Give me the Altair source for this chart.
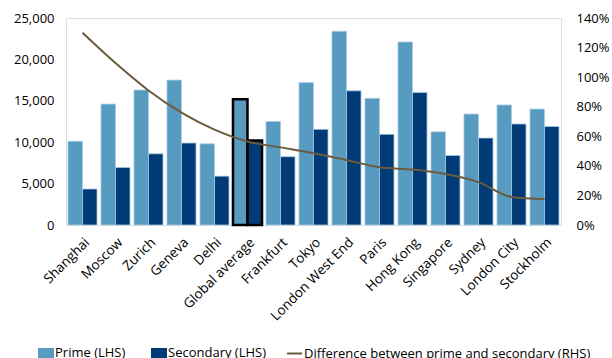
import altair as alt
import pandas as pd

# Prime vs secondary office rents by city, with the prime premium on the right axis
cities = ["Shanghai", "Moscow", "Zurich", "Geneva", "Delhi", "Global average",
          "Frankfurt", "Tokyo", "London West End", "Paris", "Hong Kong",
          "Singapore", "Sydney", "London City", "Stockholm"]
prime = [10100, 14600, 16300, 17500, 9800, 15200, 12500, 17200, 23400,
         15300, 22100, 11250, 13400, 14500, 14000]
secondary = [4350, 6950, 8600, 9900, 5900, 10200, 8250, 11550, 16200,
             10950, 16000, 8400, 10500, 12200, 11900]
difference = [1.30, 1.095, 0.91, 0.76, 0.645, 0.565, 0.525, 0.485, 0.44,
              0.39, 0.375, 0.345, 0.29, 0.19, 0.175]

PRIME_LBL = "Prime (LHS)"
SEC_LBL = "Secondary (LHS)"
DIFF_LBL = "Difference between prime and secondary (RHS)"

bars_df = pd.DataFrame(
    [{"city": c, "series": PRIME_LBL, "value": p} for c, p in zip(cities, prime)]
    + [{"city": c, "series": SEC_LBL, "value": s} for c, s in zip(cities, secondary)]
)
line_df = pd.DataFrame({"city": cities, "diff": difference, "series": DIFF_LBL})

FONT = "Open Sans"

x_enc = alt.X(
    "city:N", sort=cities, title=None,
    scale=alt.Scale(paddingInner=0.12, paddingOuter=0.06),
    axis=alt.Axis(labelAngle=-45, labelFontSize=13.5, labelColor="#000000",
                  ticks=False, domain=False, labelPadding=10, labelFont=FONT),
)

bars = alt.Chart(bars_df).mark_bar(strokeWidth=1).encode(
    x=x_enc,
    xOffset=alt.XOffset("series:N", sort=[PRIME_LBL, SEC_LBL]),
    y=alt.Y("value:Q", title=None,
            scale=alt.Scale(domain=[0, 25000], nice=False),
            axis=alt.Axis(values=[0, 5000, 10000, 15000, 20000, 25000], format=",.0f",
                          grid=False, ticks=False, domain=False, labelPadding=12,
                          labelFontSize=13, labelColor="#000000", labelFont=FONT)),
    fill=alt.Fill("series:N",
                  scale=alt.Scale(domain=[PRIME_LBL, SEC_LBL], range=["#579bc0", "#003b78"]),
                  legend=alt.Legend(title=None, orient="none", direction="horizontal",
                                    legendX=-28, legendY=327,
                                    symbolType="M-1,-0.625L1,-0.625L1,0.625L-1,0.625Z",
                                    symbolSize=256, symbolStrokeWidth=0,
                                    labelFontSize=13, labelFont=FONT, labelColor="#000000",
                                    labelOffset=1, columnPadding=25, labelLimit=400)),
    stroke=alt.condition(alt.datum.city == "Global average",
                         alt.value("#000000"), alt.value("#a9cde3")),
    strokeWidth=alt.condition(alt.datum.city == "Global average",
                              alt.value(2.5), alt.value(0.8)),
)

line = alt.Chart(line_df).mark_line(interpolate="monotone", strokeWidth=2).encode(
    x=alt.X("city:N", sort=cities),
    y=alt.Y("diff:Q", title=None,
            scale=alt.Scale(domain=[0, 1.4], nice=False),
            axis=alt.Axis(orient="right", values=[0, 0.2, 0.4, 0.6, 0.8, 1.0, 1.2, 1.4],
                          format=".0%", grid=False, ticks=False, domain=False,
                          labelPadding=15, labelFontSize=13, labelColor="#000000",
                          labelFont=FONT)),
    stroke=alt.Stroke("series:N",
                      scale=alt.Scale(domain=[DIFF_LBL], range=["#6b5a3c"]),
                      legend=alt.Legend(title=None, orient="none", legendX=220, legendY=327,
                                        symbolType="stroke", symbolSize=225,
                                        symbolStrokeWidth=2, labelFontSize=13,
                                        labelFont=FONT, labelColor="#000000",
                                        labelOffset=1, labelLimit=400)),
)

chart = alt.layer(bars, line).resolve_scale(y="independent").properties(
    width=495, height=207,
    autosize=alt.AutoSizeParams(type="none"),
    padding={"left": 66, "top": 18, "right": 51, "bottom": 133},
).configure_view(stroke=None).configure(background="#ffffff")

chart.save("out.html", embed_options={"renderer": "svg", "actions": False})
